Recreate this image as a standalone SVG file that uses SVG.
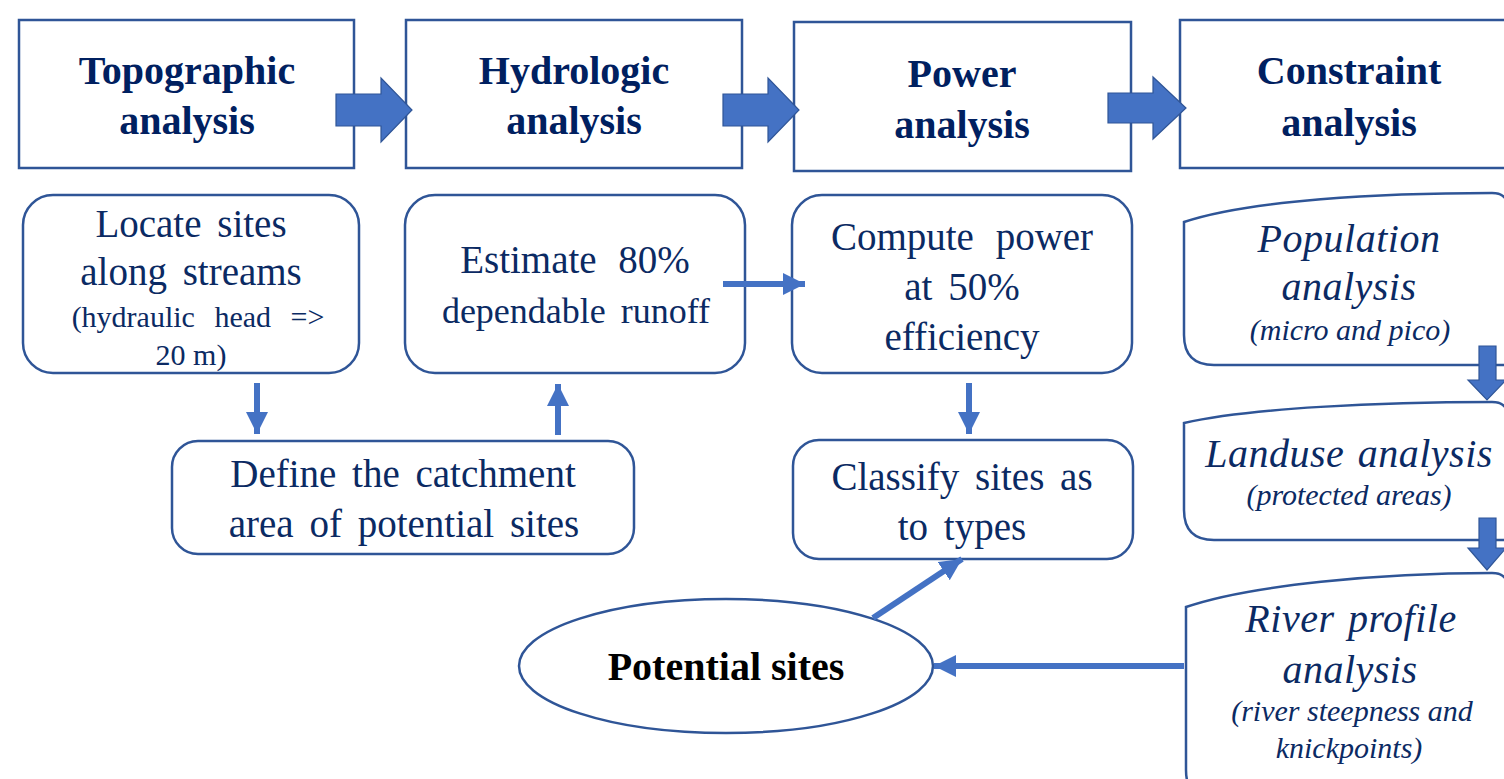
<svg xmlns="http://www.w3.org/2000/svg" width="1504" height="779" viewBox="0 0 1504 779">
<defs>
<style>
.box{fill:#fff;stroke:#2F5597;stroke-width:2.5}
.blk{fill:#4472C4;stroke:#2F5597;stroke-width:1.2}
.hd{font-family:"Liberation Serif",serif;font-weight:bold;font-size:40px;fill:#002060;text-anchor:middle}
.tx{font-family:"Liberation Serif",serif;font-size:39px;fill:#0B2A63;text-anchor:middle;word-spacing:6px}
.sm{font-family:"Liberation Serif",serif;font-size:30px;fill:#0B2A63;text-anchor:middle}
.it{font-family:"Liberation Serif",serif;font-style:italic;font-size:40px;fill:#0B2A63;text-anchor:middle;letter-spacing:0.5px;word-spacing:3px}
.its{font-family:"Liberation Serif",serif;font-style:italic;font-size:30px;fill:#0B2A63;text-anchor:middle}
.con{fill:none;stroke:#4472C4;stroke-width:6}
</style>
<marker id="ah" markerUnits="userSpaceOnUse" markerWidth="24" markerHeight="24" refX="22" refY="11" orient="auto">
<path d="M0,0 L22,11 L0,22 z" fill="#4472C4"/>
</marker>
</defs>

<g id="topographic">
<rect class="box" x="19" y="20" width="335" height="148"/>
<text class="hd" x="187" y="84">Topographic</text>
<text class="hd" x="187" y="134">analysis</text>
</g>
<g id="hydrologic">
<rect class="box" x="406" y="20" width="336" height="148"/>
<text class="hd" x="574" y="84">Hydrologic</text>
<text class="hd" x="574" y="134">analysis</text>
</g>
<g id="power">
<rect class="box" x="794" y="22" width="337" height="149"/>
<text class="hd" x="962" y="87">Power</text>
<text class="hd" x="962" y="138">analysis</text>
</g>
<g id="constraint">
<rect class="box" x="1180" y="20" width="340" height="148"/>
<text class="hd" x="1349" y="84">Constraint</text>
<text class="hd" x="1349" y="136">analysis</text>
</g>

<g id="locate">
<rect class="box" x="23" y="195" width="336" height="178" rx="30"/>
<text class="tx" x="191" y="237">Locate sites</text>
<text class="tx" x="191" y="285">along streams</text>
<text class="sm" x="198" y="327" style="word-spacing:12px">(hydraulic head =&gt;</text>
<text class="sm" x="191" y="365">20 m)</text>
</g>
<g id="estimate">
<rect class="box" x="405" y="195" width="340" height="178" rx="30"/>
<text class="tx" x="575" y="273" style="word-spacing:12px">Estimate 80%</text>
<text class="sm" x="576" y="323" style="font-size:36px;word-spacing:6px">dependable runoff</text>
</g>
<g id="compute">
<rect class="box" x="792" y="195" width="340" height="178" rx="30"/>
<text class="tx" x="962" y="250" style="word-spacing:12px">Compute power</text>
<text class="tx" x="962" y="300">at 50%</text>
<text class="tx" x="962" y="350">efficiency</text>
</g>
<g id="define">
<rect class="box" x="172" y="441" width="462" height="113" rx="26"/>
<text class="tx" x="403" y="487">Define the catchment</text>
<text class="tx" x="404" y="537">area of potential sites</text>
</g>
<g id="classify">
<rect class="box" x="793" y="440" width="340" height="119" rx="26"/>
<text class="tx" x="962" y="490">Classify sites as</text>
<text class="tx" x="962" y="540">to types</text>
</g>
<g id="potential">
<ellipse class="box" cx="726" cy="666" rx="207" ry="67"/>
<text x="726" y="680" style="font-family:'Liberation Serif',serif;font-weight:bold;font-size:40px;fill:#000;text-anchor:middle">Potential sites</text>
</g>

<g id="population">
<path class="box" d="M1184,222 C1250,200 1380,193 1492,193 Q1506,193 1508,205 L1508,365 L1214,365 Q1184,365 1184,335 Z"/>
<text class="it" x="1349" y="252">Population</text>
<text class="it" x="1349" y="300">analysis</text>
<text class="its" x="1350" y="340">(micro and pico)</text>
</g>
<g id="landuse">
<path class="box" d="M1184,423 C1250,408 1380,402 1492,402 Q1506,402 1508,414 L1508,540 L1214,540 Q1184,540 1184,510 Z"/>
<text class="it" x="1349" y="467">Landuse analysis</text>
<text class="its" x="1349" y="505">(protected areas)</text>
</g>
<g id="river">
<path class="box" d="M1186,607 C1250,585 1380,573 1492,573 Q1506,573 1508,585 L1508,800 L1216,800 Q1186,800 1186,770 Z"/>
<text class="it" x="1351" y="632">River profile</text>
<text class="it" x="1350" y="683">analysis</text>
<text class="its" x="1352" y="721">(river steepness and</text>
<text class="its" x="1349" y="758">knickpoints)</text>
</g>

<g id="connectors">
<path class="blk" d="M336,94 L381,94 L381,78 L412,110 L381,142 L381,126 L336,126 Z"/>
<path class="blk" d="M723,94 L768,94 L768,78 L799,110 L768,142 L768,126 L723,126 Z"/>
<path class="blk" d="M1108,93 L1153,93 L1153,77 L1186,108 L1153,139 L1153,123 L1108,123 Z"/>
<path class="blk" d="M1479,346 L1496,346 L1496,380 L1506,380 L1487,400 L1468,380 L1479,380 Z"/>
<path class="blk" d="M1479,518 L1496,518 L1496,548 L1506,548 L1487,570 L1468,548 L1479,548 Z"/>
<line class="con" x1="257" y1="383" x2="257" y2="434" marker-end="url(#ah)"/>
<line class="con" x1="558" y1="435" x2="558" y2="384" marker-end="url(#ah)"/>
<line class="con" x1="723" y1="284" x2="805" y2="284" marker-end="url(#ah)"/>
<line class="con" x1="969" y1="383" x2="969" y2="434" marker-end="url(#ah)"/>
<line class="con" x1="873" y1="618" x2="962" y2="559" marker-end="url(#ah)"/>
<line class="con" x1="1184" y1="666" x2="934" y2="666" marker-end="url(#ah)"/>
</g>
</svg>
